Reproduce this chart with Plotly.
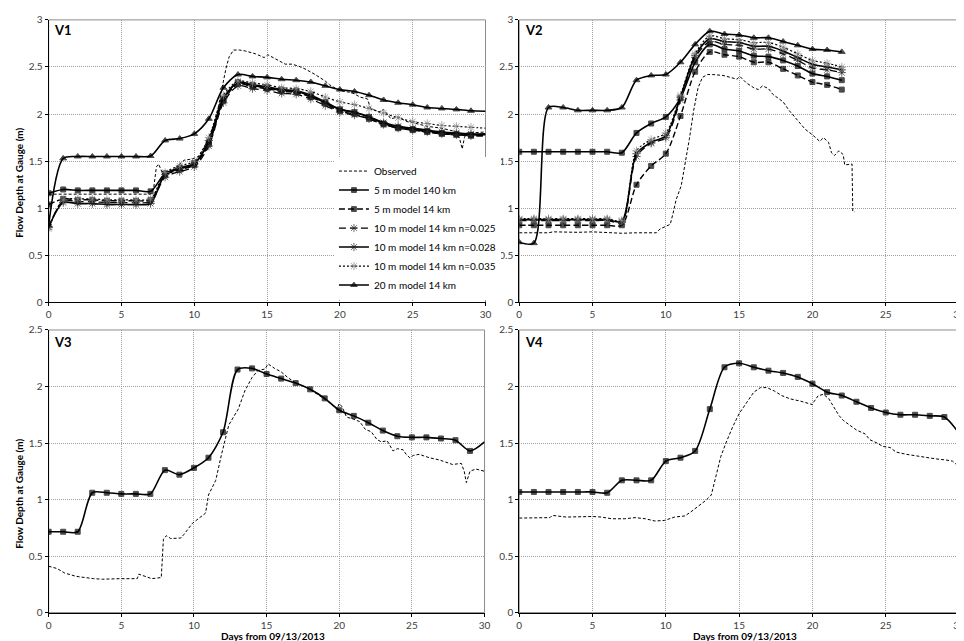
import plotly.graph_objects as go

# ---- V1 (days 0..30) ----
days_v1 = list(range(0, 31))
v1_5m_140km = [1.16, 1.20, 1.19, 1.19, 1.19, 1.19, 1.19, 1.18, 1.37, 1.43, 1.48, 1.70, 2.15, 2.34, 2.31, 2.29,
               2.26, 2.25, 2.20, 2.13, 2.05, 2.02, 1.97, 1.90, 1.86, 1.84, 1.82, 1.80, 1.79, 1.78, 1.78]
v1_5m_14km = [1.04, 1.10, 1.09, 1.09, 1.08, 1.08, 1.08, 1.09, 1.35, 1.41, 1.46, 1.68, 2.14, 2.32, 2.29, 2.27,
              2.24, 2.23, 2.18, 2.11, 2.03, 2.00, 1.95, 1.89, 1.85, 1.83, 1.81, 1.79, 1.78, 1.77, 1.77]
v1_10m_n025 = [0.80, 1.08, 1.07, 1.07, 1.06, 1.06, 1.06, 1.07, 1.33, 1.39, 1.44, 1.66, 2.12, 2.30, 2.27, 2.25,
               2.22, 2.21, 2.16, 2.09, 2.02, 1.99, 1.95, 1.89, 1.85, 1.83, 1.81, 1.79, 1.78, 1.77, 1.77]
v1_10m_n028 = [0.80, 1.06, 1.05, 1.05, 1.04, 1.04, 1.04, 1.05, 1.36, 1.42, 1.47, 1.72, 2.17, 2.33, 2.30, 2.28,
               2.25, 2.24, 2.19, 2.12, 2.05, 2.02, 1.97, 1.91, 1.87, 1.85, 1.83, 1.81, 1.80, 1.79, 1.79]
v1_10m_n035 = [0.78, 1.09, 1.10, 1.10, 1.09, 1.09, 1.09, 1.10, 1.38, 1.45, 1.50, 1.75, 2.20, 2.35, 2.33, 2.31,
               2.28, 2.27, 2.24, 2.18, 2.13, 2.10, 2.06, 2.01, 1.96, 1.92, 1.90, 1.88, 1.87, 1.86, 1.85]
v1_20m_14km = [0.82, 1.53, 1.55, 1.55, 1.55, 1.55, 1.55, 1.555, 1.72, 1.74, 1.79, 1.95, 2.28, 2.42, 2.40, 2.39,
               2.37, 2.36, 2.34, 2.30, 2.26, 2.24, 2.20, 2.15, 2.12, 2.10, 2.07, 2.06, 2.05, 2.035, 2.03]
v1_obs_day = [0, 7.0, 7.2, 7.4, 7.55, 7.7, 7.85, 8.0, 8.5, 9.0, 9.3, 9.7, 10.0, 10.3, 10.7, 11.0, 11.5, 12.0,
              12.2, 12.4, 12.7, 13.1, 13.5, 14.2, 14.8, 15.05, 15.6, 16.25, 16.7, 17.15, 17.6, 18.3, 19.0, 19.3,
              19.85, 20.3, 20.8, 21.4, 21.9, 22.1, 22.7, 23.0, 23.5, 24.0, 24.6, 25.0, 26.0, 27.0, 27.8, 28.2,
              28.4, 28.55, 28.7, 29.0, 30.0]
v1_obs = [1.15, 1.15, 1.20, 1.44, 1.47, 1.42, 1.36, 1.35, 1.40, 1.47, 1.51, 1.52, 1.53, 1.55, 1.65, 1.75, 1.95,
          2.35, 2.50, 2.61, 2.68, 2.68, 2.67, 2.64, 2.60, 2.63, 2.58, 2.53, 2.53, 2.51, 2.48, 2.42, 2.35, 2.31,
          2.26, 2.24, 2.23, 2.18, 2.16, 2.06, 2.02, 2.05, 1.95, 1.97, 1.92, 1.91, 1.87, 1.85, 1.82, 1.75,
          1.63, 1.75, 1.80, 1.80, 1.81]

# ---- V2 (days 0..22) ----
days_v2 = list(range(0, 23))
v2_5m_140km = [1.60, 1.60, 1.60, 1.60, 1.60, 1.60, 1.60, 1.59, 1.80, 1.90, 1.97, 2.17, 2.55, 2.74, 2.69, 2.67,
               2.62, 2.61, 2.57, 2.51, 2.43, 2.40, 2.36]
v2_5m_14km = [0.82, 0.82, 0.82, 0.82, 0.82, 0.82, 0.82, 0.82, 1.25, 1.45, 1.58, 1.98, 2.45, 2.66, 2.63, 2.61,
              2.55, 2.55, 2.48, 2.41, 2.34, 2.31, 2.26]
v2_10m_n025 = [0.87, 0.87, 0.87, 0.87, 0.87, 0.87, 0.87, 0.85, 1.55, 1.69, 1.75, 2.15, 2.60, 2.77, 2.74, 2.73,
               2.69, 2.69, 2.64, 2.57, 2.49, 2.47, 2.44]
v2_10m_n028 = [0.88, 0.88, 0.88, 0.88, 0.88, 0.88, 0.88, 0.86, 1.58, 1.70, 1.77, 2.18, 2.62, 2.80, 2.77, 2.76,
               2.72, 2.72, 2.67, 2.60, 2.53, 2.50, 2.47]
v2_10m_n035 = [0.89, 0.89, 0.89, 0.89, 0.89, 0.89, 0.89, 0.87, 1.61, 1.73, 1.80, 2.20, 2.64, 2.83, 2.80, 2.79,
               2.76, 2.76, 2.71, 2.64, 2.57, 2.54, 2.50]
v2_20m_14km = [0.64, 0.63, 2.07, 2.07, 2.04, 2.04, 2.04, 2.07, 2.36, 2.41, 2.42, 2.55, 2.74, 2.88, 2.85, 2.84,
               2.81, 2.81, 2.77, 2.73, 2.69, 2.68, 2.66]
v2_obs_day = [0, 1, 2, 2.3, 3, 4, 5, 6, 7, 8, 9, 9.35, 9.6, 10.0, 10.3, 10.5, 10.7, 11.05, 11.3, 11.6, 11.9,
              12.2, 12.5, 12.85, 13.2, 13.9, 14.4, 14.85, 15.05, 15.5, 16.0, 16.3, 16.6, 17.0, 17.3, 18.0,
              18.4, 18.8, 19.2, 19.5, 20.0, 20.5, 20.75, 21.1, 21.3, 21.5, 21.8, 22.1, 22.2, 22.7, 22.75, 22.9]
v2_obs = [0.74, 0.74, 0.74, 0.75, 0.745, 0.745, 0.75, 0.74, 0.735, 0.74, 0.74, 0.74, 0.78, 0.81, 0.83, 0.95,
          1.09, 1.24, 1.45, 1.73, 2.04, 2.28, 2.39, 2.42, 2.42, 2.41, 2.39, 2.37, 2.40, 2.33, 2.28, 2.26, 2.30,
          2.27, 2.21, 2.13, 2.04, 1.97, 1.90, 1.84, 1.78, 1.71, 1.75, 1.70, 1.59, 1.56, 1.61, 1.57, 1.46, 1.47,
          0.97, 0.96]

# ---- V3 (days 0..30) ----
days_v3 = list(range(0, 31))
v3_5m_140km = [0.715, 0.715, 0.715, 1.06, 1.06, 1.05, 1.05, 1.05, 1.26, 1.22, 1.28, 1.37, 1.595, 2.15, 2.16,
               2.11, 2.07, 2.03, 1.975, 1.895, 1.79, 1.74, 1.68, 1.61, 1.56, 1.55, 1.55, 1.54, 1.525, 1.43, 1.51]
v3_obs_day = [0, 0.57, 1.1, 1.9, 3.1, 3.7, 4.9, 6.1, 6.2, 6.7, 7.1, 7.75, 7.9, 8.1, 8.4, 9.1, 9.3, 9.9, 10.3,
              10.8, 11.0, 11.5, 11.9, 12.4, 13.05, 13.5, 14.0, 14.4, 14.9, 15.1, 15.55, 16.0, 16.45, 16.9,
              17.35, 17.8, 18.5, 19.2, 19.85, 20.0, 20.2, 20.5, 21.0, 21.4, 21.8, 22.2, 22.6, 22.9, 23.3, 23.7,
              24.0, 24.4, 24.6, 24.85, 25.1, 25.5, 26.2, 26.9, 27.8, 28.4, 28.6, 28.75, 29.0, 29.4, 30.0]
v3_obs = [0.41, 0.39, 0.35, 0.32, 0.30, 0.295, 0.30, 0.30, 0.34, 0.32, 0.30, 0.31, 0.65, 0.68, 0.655, 0.66,
          0.69, 0.79, 0.83, 0.88, 1.04, 1.17, 1.40, 1.66, 1.80, 1.96, 2.08, 2.14, 2.155, 2.20, 2.16, 2.13,
          2.08, 2.04, 2.01, 1.99, 1.93, 1.87, 1.80, 1.85, 1.82, 1.73, 1.71, 1.69, 1.62, 1.60, 1.53, 1.51, 1.52,
          1.43, 1.45, 1.44, 1.40, 1.37, 1.39, 1.40, 1.37, 1.35, 1.31, 1.32, 1.25, 1.15, 1.25, 1.27, 1.25]

# ---- V4 (days 0..30) ----
days_v4 = list(range(0, 31))
v4_5m_140km = [1.067, 1.067, 1.067, 1.067, 1.067, 1.067, 1.06, 1.17, 1.17, 1.17, 1.34, 1.37, 1.43, 1.80, 2.17,
               2.205, 2.17, 2.14, 2.12, 2.085, 2.025, 1.95, 1.92, 1.865, 1.81, 1.77, 1.75, 1.75, 1.74, 1.73, 1.585]
v4_obs_day = [0, 1.1, 2.1, 2.25, 3.2, 5.0, 5.6, 6.3, 7.2, 7.9, 8.6, 9.25, 9.9, 10.6, 11.3, 11.7, 12.2, 12.75,
              13.1, 13.4, 13.75, 14.1, 14.55, 15.0, 15.55, 16.0, 16.45, 16.9, 17.4, 17.9, 18.5, 19.2, 20.0,
              20.1, 20.4, 20.75, 21.1, 21.4, 21.8, 22.1, 22.55, 23.0, 23.6, 23.9, 24.4, 24.8, 25.3, 25.7, 26.4,
              27.1, 27.7, 28.4, 29.1, 29.55, 30.0]
v4_obs = [0.836, 0.84, 0.84, 0.86, 0.845, 0.85, 0.845, 0.83, 0.83, 0.84, 0.83, 0.81, 0.815, 0.845, 0.855, 0.89,
          0.94, 0.995, 1.04, 1.20, 1.38, 1.50, 1.64, 1.76, 1.87, 1.95, 1.99, 1.99, 1.96, 1.92, 1.89, 1.87, 1.84,
          1.865, 1.92, 1.93, 1.895, 1.83, 1.745, 1.70, 1.66, 1.615, 1.58, 1.53, 1.50, 1.47, 1.46, 1.42, 1.40,
          1.385, 1.37, 1.36, 1.35, 1.34, 1.29]

series_names = ["Observed", "5 m model 140 km", "5 m model 14 km", "10 m model 14 km n=0.025",
                "10 m model 14 km n=0.028", "10 m model 14 km n=0.035", "20 m model 14 km"]

# line / marker style per series
styles = {
    "5 m model 140 km": dict(dash="solid", width=1.6, symbol="square", size=5, mcolor="black"),
    "5 m model 14 km": dict(dash="6px,3px", width=1.4, symbol="square", size=5, mcolor="black"),
    "10 m model 14 km n=0.025": dict(dash="7px,4px", width=1.3, symbol="asterisk-open", size=7, mcolor="#333333"),
    "10 m model 14 km n=0.028": dict(dash="solid", width=1.6, symbol="asterisk-open", size=7, mcolor="#222222"),
    "10 m model 14 km n=0.035": dict(dash="2px,2px", width=1.2, symbol="asterisk-open", size=7, mcolor="#888888"),
    "20 m model 14 km": dict(dash="solid", width=1.6, symbol="triangle-up", size=6, mcolor="black"),
}

FONT = "Lato, 'Open Sans', sans-serif"

fig = go.Figure()


def add_obs(xs, ys, xa, ya, show):
    fig.add_trace(go.Scatter(x=xs, y=ys, mode="lines", name="Observed", legendrank=1,
                             line=dict(color="black", width=1, dash="3px,2px"),
                             xaxis=xa, yaxis=ya, showlegend=show))


def add_model(name, xs, ys, xa, ya, show, rank):
    st = styles[name]
    # Excel-style: no marker on the day-30 end point
    sizes = [st["size"]] * len(xs)
    if xs[-1] == 30:
        sizes[-1] = 0
    fig.add_trace(go.Scatter(x=xs, y=ys, mode="lines+markers", name=name, legendrank=rank,
                             line=dict(color="black", width=st["width"], dash=st["dash"],
                                       shape="spline", smoothing=0.8),
                             marker=dict(symbol=st["symbol"], size=sizes, color=st["mcolor"],
                                         line=dict(width=1, color=st["mcolor"])),
                             xaxis=xa, yaxis=ya, showlegend=show))


# V1
add_obs(v1_obs_day, v1_obs, "x", "y", True)
for i, (nm, ys) in enumerate(zip(series_names[1:], [v1_5m_140km, v1_5m_14km, v1_10m_n025,
                                                    v1_10m_n028, v1_10m_n035, v1_20m_14km])):
    add_model(nm, days_v1, ys, "x", "y", True, i + 2)
# V2
add_obs(v2_obs_day, v2_obs, "x2", "y2", False)
for i, (nm, ys) in enumerate(zip(series_names[1:], [v2_5m_140km, v2_5m_14km, v2_10m_n025,
                                                    v2_10m_n028, v2_10m_n035, v2_20m_14km])):
    add_model(nm, days_v2, ys, "x2", "y2", False, i + 2)
# V3
add_obs(v3_obs_day, v3_obs, "x3", "y3", False)
add_model("5 m model 140 km", days_v3, v3_5m_140km, "x3", "y3", False, 2)
# V4
add_obs(v4_obs_day, v4_obs, "x4", "y4", False)
add_model("5 m model 140 km", days_v4, v4_5m_140km, "x4", "y4", False, 2)

W, H = 964, 641


def xdom(a, b):
    return [a / W, b / W]


def ydom(top, bot):
    return [1 - bot / H, 1 - top / H]


axis_common = dict(showline=True, linecolor="black", linewidth=1, ticks="outside", ticklen=3,
                   tickcolor="black", showgrid=True, gridcolor="#a0a0a0", griddash="1px,1px", gridwidth=1,
                   zeroline=False, tickfont=dict(family=FONT, size=10, color="#404040"))

x_axes = {"xaxis": (38, 479, "y"), "xaxis2": (513, 957, "y2"),
          "xaxis3": (38, 478, "y3"), "xaxis4": (513, 957, "y4")}
y_axes = {"yaxis": (6, 294, "x", 3), "yaxis2": (6, 294, "x2", 3),
          "yaxis3": (322, 610, "x3", 2.5), "yaxis4": (322, 610, "x4", 2.5)}

layout_axes = {}
for k, (a, b, anc) in x_axes.items():
    layout_axes[k] = dict(axis_common, domain=xdom(a, b), anchor=anc, range=[0, 30], dtick=5)
for k, (t, bt, anc, top) in y_axes.items():
    layout_axes[k] = dict(axis_common, domain=ydom(t, bt), anchor=anc, range=[0, top], dtick=0.5,
                          tickformat="~g")

fig.update_layout(width=W, height=H, margin=dict(l=0, r=0, t=0, b=0),
                  plot_bgcolor="white", paper_bgcolor="white", font=dict(family=FONT, color="black"),
                  legend=dict(x=326 / W, y=1 - 291 / H, xanchor="left", yanchor="bottom",
                              bgcolor="white", font=dict(family=FONT, size=10, color="black"),
                              tracegroupgap=0, itemwidth=30),
                  **layout_axes)

# gray plot-area border
for xr, yr in [("x", "y"), ("x2", "y2"), ("x3", "y3"), ("x4", "y4")]:
    fig.add_shape(type="rect", xref=xr + " domain", yref=yr + " domain", x0=0, x1=1, y0=0, y1=1,
                  line=dict(color="#8c8c8c", width=1), layer="below")

# panel labels
for lab, px, py in [("V1", 41, 16), ("V2", 517, 16), ("V3", 41, 334), ("V4", 517, 334)]:
    fig.add_annotation(text="<b>" + lab + "</b>", x=px / W, y=1 - py / H, xref="paper", yref="paper",
                       xanchor="left", yanchor="middle", showarrow=False,
                       font=dict(family=FONT, size=13, color="black"))

# axis titles
for py in [172, 489]:
    fig.add_annotation(text="<b>Flow Depth at Gauge (m)</b>", x=8 / W, y=1 - py / H, xref="paper",
                       yref="paper", textangle=-90, showarrow=False, xanchor="center", yanchor="middle",
                       font=dict(family=FONT, size=10, color="black"))
for px in [264, 741]:
    fig.add_annotation(text="<b>Days from 09/13/2013</b>", x=px / W, y=0, xref="paper",
                       yref="paper", showarrow=False, xanchor="center", yanchor="bottom",
                       borderpad=0, font=dict(family=FONT, size=10, color="black"))

fig.write_html("out.html")
